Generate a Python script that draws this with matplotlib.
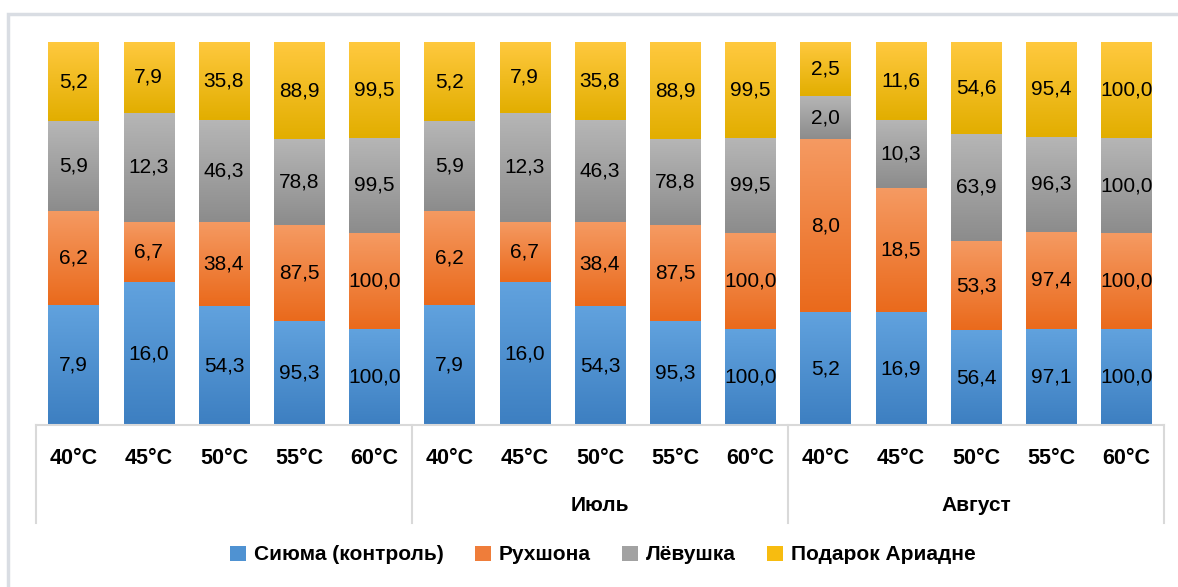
import matplotlib
matplotlib.use("Agg")
import matplotlib.pyplot as plt
import numpy as np
from matplotlib.colors import LinearSegmentedColormap
from matplotlib.patches import Patch, Rectangle

# data (values shown as labels, bars are 100% stacked)
temps = ["40°C", "45°C", "50°C", "55°C", "60°C"] * 3
months = ["", "Июль", "Август"]
series_names = ["Сиюма (контроль)", "Рухшона", "Лёвушка", "Подарок Ариадне"]

siyuma = [7.9, 16.0, 54.3, 95.3, 100.0, 7.9, 16.0, 54.3, 95.3, 100.0, 5.2, 16.9, 56.4, 97.1, 100.0]
rukhshona = [6.2, 6.7, 38.4, 87.5, 100.0, 6.2, 6.7, 38.4, 87.5, 100.0, 8.0, 18.5, 53.3, 97.4, 100.0]
levushka = [5.9, 12.3, 46.3, 78.8, 99.5, 5.9, 12.3, 46.3, 78.8, 99.5, 2.0, 10.3, 63.9, 96.3, 100.0]
podarok = [5.2, 7.9, 35.8, 88.9, 99.5, 5.2, 7.9, 35.8, 88.9, 99.5, 2.5, 11.6, 54.6, 95.4, 100.0]

# (top colour, bottom colour) for the gradient fill
grads = [("#61a2de", "#3d7fc1"),
         ("#f59a62", "#ea6a1c"),
         ("#b6b6b6", "#8c8c8c"),
         ("#ffc93f", "#e2ae00")]
legend_cols = ["#4f92d2", "#ef7d3a", "#a2a2a2", "#f7bc10"]

plt.rcParams['font.family'] = ['Liberation Sans', 'DejaVu Sans']

fig = plt.figure(figsize=(11.78, 5.87), dpi=100)
W, H = 1178, 587

# outer chart frame
fig.patches.append(Rectangle((8 / W, -0.1), 1.2, (H - 14) / H + 0.1, transform=fig.transFigure,
                             fill=False, edgecolor="#d9dde3", linewidth=2.5))

ax = fig.add_axes([36 / W, (H - 425) / H, (1164 - 36) / W, (425 - 42) / H])

data = np.array([siyuma, rukhshona, levushka, podarok])
totals = data.sum(axis=0)
shares = data / totals
x = np.arange(len(temps))

bottom = np.zeros(len(temps))
for i in range(4):
    cmap = LinearSegmentedColormap.from_list("g%d" % i, [grads[i][1], grads[i][0]])
    bars = ax.bar(x, shares[i], 0.67, bottom=bottom, color=grads[i][0], linewidth=0)
    for b, val in zip(bars, data[i]):
        bx, by = b.get_x(), b.get_y()
        bw, bh = b.get_width(), b.get_height()
        grad = np.linspace(0, 1, 100).reshape(-1, 1)
        ax.imshow(grad, cmap=cmap, origin="lower", aspect="auto",
                  extent=(bx, bx + bw, by, by + bh), zorder=2)
        ax.text(bx + bw / 2, by + bh / 2, ("%.1f" % val).replace(".", ","),
                ha="center", va="center", fontsize=15, color="black", zorder=3)
    bottom = bottom + shares[i]

ax.set_xlim(-0.5, len(temps) - 0.5)
ax.set_ylim(0, 1)
ax.set_xticks([])
ax.set_yticks([])
for s in ["top", "right", "left"]:
    ax.spines[s].set_visible(False)
ax.spines["bottom"].set_color("#d9d9d9")
ax.spines["bottom"].set_linewidth(1.5)

tr = ax.get_xaxis_transform()
for xi, t in zip(x, temps):
    ax.text(xi, -0.088, t, transform=tr, ha="center", va="center",
            fontsize=15.5, fontweight="bold", color="black")

for g in range(4):
    ax.plot([g * 5 - 0.5, g * 5 - 0.5], [0, -0.255], transform=tr,
            color="#d9d9d9", linewidth=1.5, clip_on=False)
for g, m in enumerate(months):
    ax.text(g * 5 + 2, -0.21, m, transform=tr, ha="center", va="center",
            fontsize=15, fontweight="bold", color="black")

handles = [Patch(facecolor=legend_cols[i], edgecolor="none") for i in range(4)]
fig.legend(handles, series_names, loc="center", bbox_to_anchor=(603 / W, (H - 555) / H),
           ncol=4, frameon=False, prop={"size": 15, "weight": "bold"},
           handlelength=0.75, handleheight=0.75, handletextpad=0.4, columnspacing=1.5)

fig.savefig("out.png", dpi=100)
